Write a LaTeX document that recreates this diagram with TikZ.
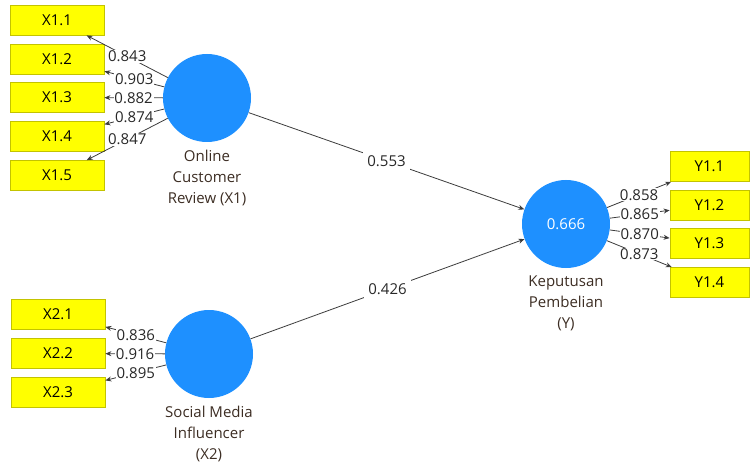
\documentclass[tikz,border=0pt]{standalone}
\usepackage{fontspec}
\setmainfont{Open Sans}
\usetikzlibrary{arrows.meta}
\definecolor{boxyellow}{RGB}{255,255,0}
\definecolor{boxborder}{RGB}{195,195,0}
\definecolor{latblue}{RGB}{30,144,255}
\definecolor{linegray}{RGB}{60,60,60}
\definecolor{txtgray}{RGB}{40,40,40}
\definecolor{labbrown}{RGB}{60,45,35}
\begin{document}
\begin{tikzpicture}[x=1pt,y=-1pt,
  txt/.style={font=\fontsize{15}{21}\selectfont},
  ind/.style={txt, draw=boxborder, line width=0.8pt, fill=boxyellow, minimum width=94pt, minimum height=30pt, inner sep=0pt, text=black},
  indy/.style={ind, minimum width=79pt},
  lat/.style={circle, fill=latblue, minimum size=88pt, inner sep=0pt, txt, text=white},
  latlab/.style={txt, align=center, text=labbrown, anchor=north, inner sep=0pt},
  ld/.style={draw=linegray, line width=0.8pt, -{Stealth[length=6pt,width=5pt]}},
  val/.style={txt, fill=white, inner sep=0.8pt, text=txtgray}]
\useasboundingbox (0,0) rectangle (751,470);

% indicator boxes
\node[ind] (x11) at (57,20) {X1.1};
\node[ind] (x12) at (57,59) {X1.2};
\node[ind] (x13) at (57,97.5) {X1.3};
\node[ind] (x14) at (57,136.5) {X1.4};
\node[ind] (x15) at (57,175.5) {X1.5};
\node[ind] (x21) at (58,314.5) {X2.1};
\node[ind] (x22) at (58,353.5) {X2.2};
\node[ind] (x23) at (58,392.5) {X2.3};
\node[indy] (y11) at (709.5,166.5) {Y1.1};
\node[indy] (y12) at (709.5,205) {Y1.2};
\node[indy] (y13) at (709.5,243.5) {Y1.3};
\node[indy] (y14) at (709.5,282.5) {Y1.4};

% latent variables
\node[lat] (X1) at (207,98) {};
\node[lat] (X2) at (209,354) {};
\node[lat] (Y) at (566,224) {0.666};

\node[latlab] (X1l) at (207,150) {Online\\Customer\\Review (X1)};
\node[latlab] (X2l) at (209,406) {Social Media\\Influencer\\(X2)};
\node[latlab] (Yl) at (566,276) {Keputusan\\Pembelian\\(Y)};

% outer loadings
\draw[ld] (X1) -- node[val] (l11) {0.843} (x11);
\draw[ld] (X1) -- node[val] (l12) {0.903} (x12);
\draw[ld] (X1) -- node[val] (l13) {0.882} (x13);
\draw[ld] (X1) -- node[val] (l14) {0.874} (x14);
\draw[ld] (X1) -- node[val] (l15) {0.847} (x15);
\draw[ld] (X2) -- node[val] (l21) {0.836} (x21);
\draw[ld] (X2) -- node[val] (l22) {0.916} (x22);
\draw[ld] (X2) -- node[val] (l23) {0.895} (x23);
\draw[ld] (Y) -- node[val] (m11) {0.858} (y11);
\draw[ld] (Y) -- node[val] (m12) {0.865} (y12);
\draw[ld] (Y) -- node[val] (m13) {0.870} (y13);
\draw[ld] (Y) -- node[val] (m14) {0.873} (y14);

% structural paths
\draw[ld] (X1) -- node[val, inner sep=4pt] (p1) {0.553} (Y);
\draw[ld] (X2) -- node[val, inner sep=4pt] (p2) {0.426} (Y);
\end{tikzpicture}
\end{document}
